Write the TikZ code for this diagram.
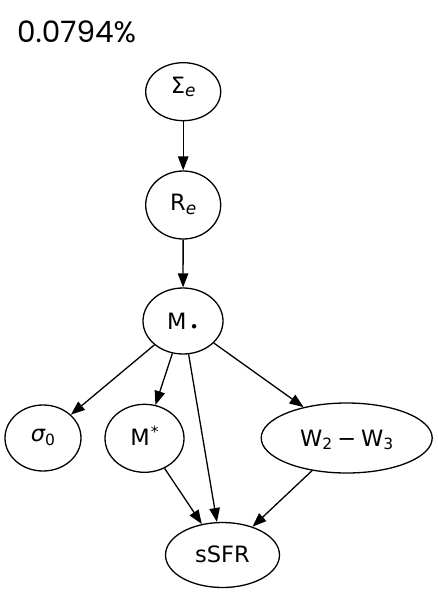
\documentclass[tikz,border=0pt]{standalone}
\usepackage{fontspec}
\setmainfont{DejaVu Sans}
\newfontfamily\titlefont{Poppins}
\usetikzlibrary{arrows.meta,shapes.geometric}
\newcommand\lsub[1]{\raisebox{-3.5pt}{\fontsize{15.5}{16}\selectfont #1}}
\newcommand\esub[1]{\raisebox{-3.5pt}{\fontsize{17}{18}\selectfont #1}}
\newcommand\lsup[1]{\raisebox{8pt}{\fontsize{15.5}{16}\selectfont #1}}
\begin{document}
\begin{tikzpicture}[x=1pt,y=-1pt,
  nd/.style={draw, ellipse, line width=1.3pt, inner sep=0pt,
    font=\fontsize{22.5}{27}\selectfont, text height=16.4pt},
  edge/.style={line width=1.3pt, -{Triangle[length=14pt,width=10.5pt]}}]
\useasboundingbox (0,0) rectangle (438,594);
\node[anchor=base west, inner sep=0pt, font=\titlefont\fontsize{29.5}{35}\selectfont] (title) at (17,43) {0.0794\%};
\node[nd, minimum width=75pt, minimum height=58pt, text depth=13.2pt] (Se) at (183.2,91.7) {Σ\esub{\itshape e}};
\node[nd, minimum width=75pt, minimum height=68pt, text depth=5pt] (Re) at (183.2,205) {R\esub{\itshape e}};
\node[nd, minimum width=80pt, minimum height=66pt, text depth=0pt] (M) at (183,321) {M\hspace{3pt}\lsub{•}};
\node[nd, minimum width=76pt, minimum height=66pt, text depth=9pt] (sig) at (43,438) {{\itshape σ}\lsub{0}};
\node[nd, minimum width=79pt, minimum height=68pt, text depth=3pt] (Ms) at (144.5,438.3) {M\hspace{1pt}\lsup{*}};
\node[nd, minimum width=171pt, minimum height=70pt, text depth=0pt] (W) at (346.7,438) {W\lsub{2}\hspace{5pt}−\hspace{5pt}W\lsub{3}};
\node[nd, minimum width=114pt, minimum height=65pt, text depth=1pt] (s) at (222.5,555) {sSFR};
\draw[edge] (Se) -- (Re);
\draw[edge] (Re) -- (M);
\draw[edge] (M) -- (sig);
\draw[edge] (M) -- (Ms);
\draw[edge] (M) -- (s);
\draw[edge] (M) -- (W);
\draw[edge] (Ms) -- (s);
\draw[edge] (W) -- (s);
\end{tikzpicture}
\end{document}
